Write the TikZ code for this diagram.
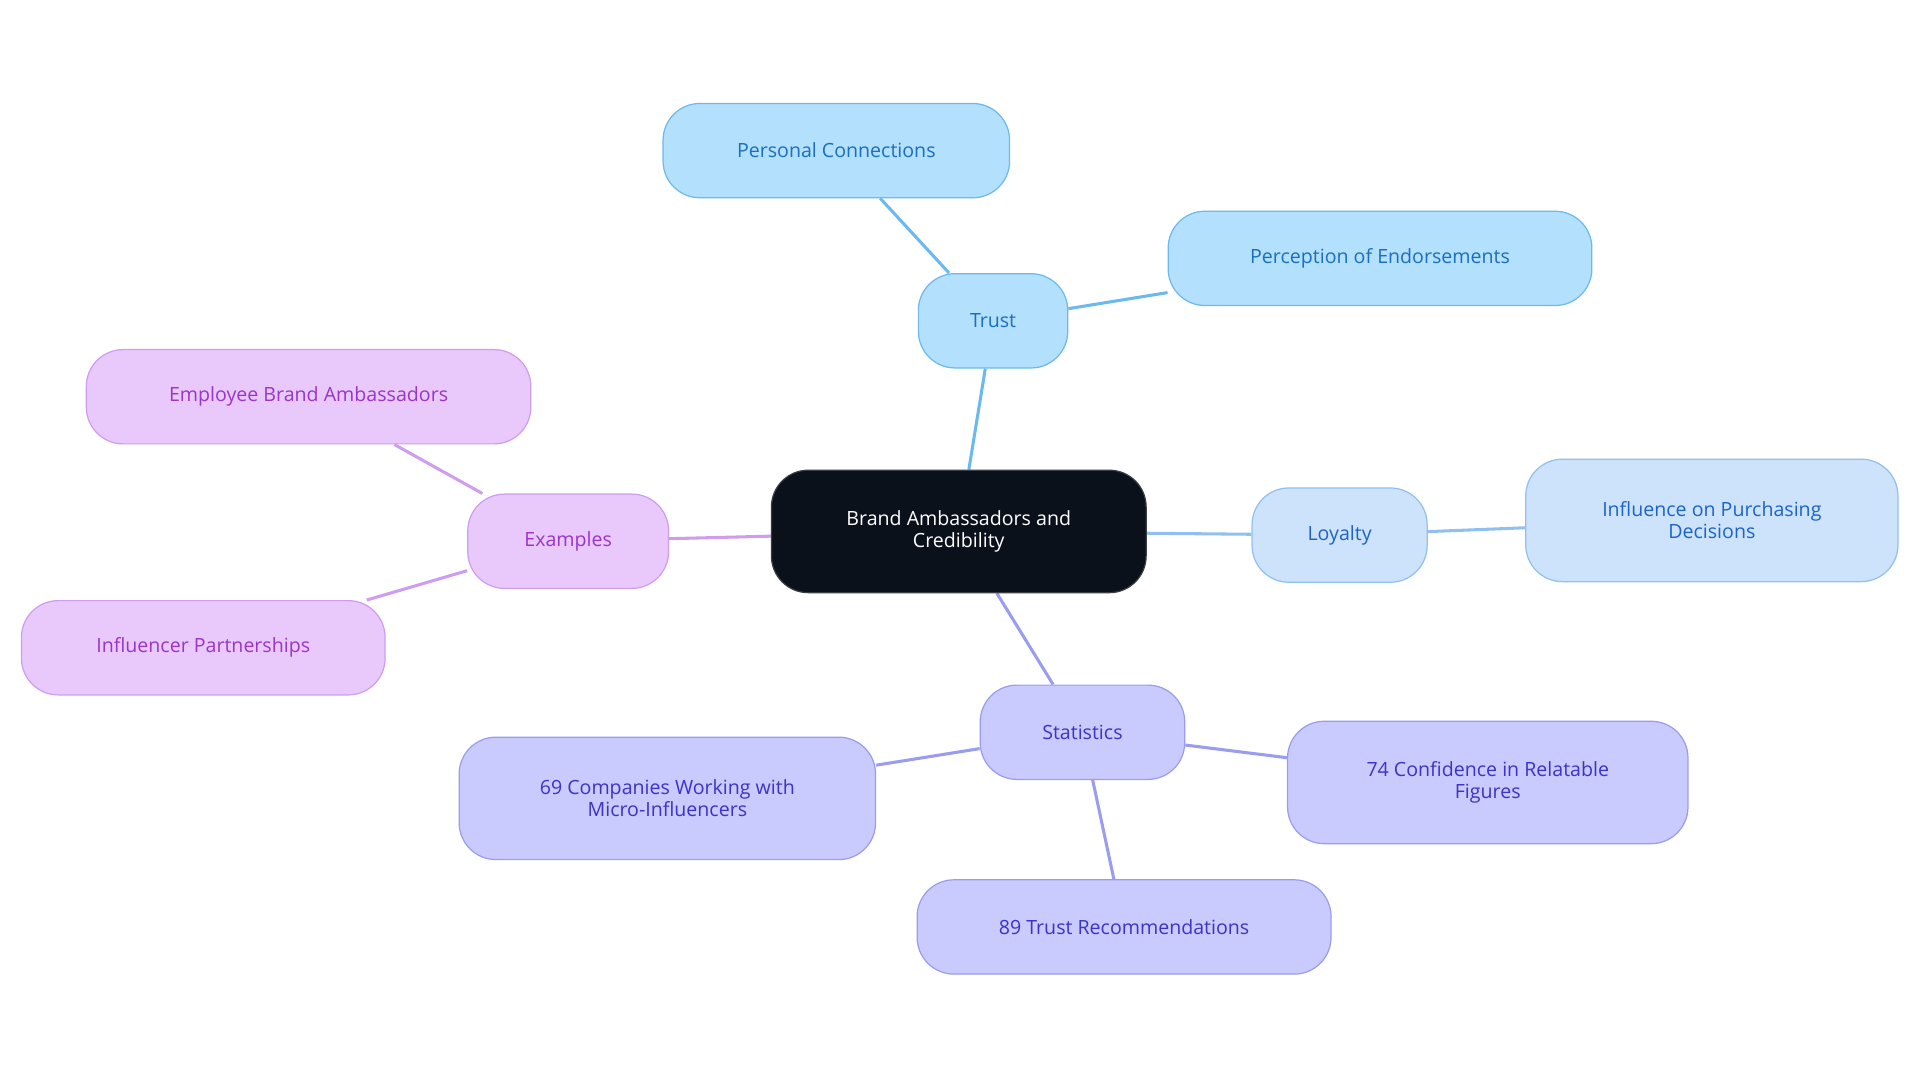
\documentclass[tikz,border=0pt]{standalone}
\usepackage{fontspec}
\setmainfont{Open Sans}
\usetikzlibrary{backgrounds}
\definecolor{cfill}{HTML}{0B111B}
\definecolor{tfill}{HTML}{B3E0FD}\definecolor{tline}{HTML}{6CB9EF}\definecolor{ttext}{HTML}{1A6FC0}
\definecolor{lfill}{HTML}{CDE3FB}\definecolor{lline}{HTML}{90C0F0}\definecolor{ltext}{HTML}{1D64C8}
\definecolor{sfill}{HTML}{C9CAFD}\definecolor{sline}{HTML}{9A9CF0}\definecolor{stext}{HTML}{3B34C7}
\definecolor{efill}{HTML}{E9C9FC}\definecolor{eline}{HTML}{CF9DF0}\definecolor{etext}{HTML}{9A35C9}
\tikzset{
  x=1pt,y=-1pt,
  box/.style={rounded corners=30pt,line width=1pt,align=center,font=\fontsize{16}{18}\selectfont,inner sep=0pt},
  tr/.style={box,fill=tfill,draw=tline,text=ttext},
  lo/.style={box,fill=lfill,draw=lline,text=ltext},
  st/.style={box,fill=sfill,draw=sline,text=stext},
  ex/.style={box,fill=efill,draw=eline,text=etext},
  ed/.style={line width=2.5pt}
}
\begin{document}
\begin{tikzpicture}
\useasboundingbox (0,0) rectangle (1568,884);
\node[box,fill=cfill,draw=cfill!60!gray,text=white,minimum width=306pt,minimum height=100pt] (c) at (783,434) {Brand Ambassadors and\\Credibility};
\node[tr,minimum width=122pt,minimum height=77pt] (t) at (811,262) {Trust};
\node[tr,minimum width=283pt,minimum height=77pt] (pc) at (683,123) {Personal Connections};
\node[tr,minimum width=346pt,minimum height=77pt] (pe) at (1127,211) {Perception of Endorsements};
\node[lo,minimum width=143pt,minimum height=77pt] (l) at (1094,437) {Loyalty};
\node[lo,minimum width=304pt,minimum height=100pt] (ip) at (1398,425) {Influence on Purchasing\\Decisions};
\node[st,minimum width=167pt,minimum height=77pt] (s) at (884,598) {Statistics};
\node[st,minimum width=340pt,minimum height=100pt] (s69) at (545,652) {69 Companies Working with\\Micro-Influencers};
\node[st,minimum width=327pt,minimum height=100pt] (s74) at (1215,639) {74 Confidence in Relatable\\Figures};
\node[st,minimum width=338pt,minimum height=77pt] (s89) at (918,757) {89 Trust Recommendations};
\node[ex,minimum width=164pt,minimum height=77pt] (e) at (464,442) {Examples};
\node[ex,minimum width=363pt,minimum height=77pt] (eb) at (252,324) {Employee Brand Ambassadors};
\node[ex,minimum width=297pt,minimum height=77pt] (ip2) at (166,529) {Influencer Partnerships};
\begin{scope}[on background layer]
\draw[ed,tline] (c)--(t) (t)--(pc) (t)--(pe);
\draw[ed,lline] (c)--(l) (l)--(ip);
\draw[ed,sline] (c)--(s) (s)--(s69) (s)--(s74) (s)--(s89);
\draw[ed,eline] (c)--(e) (e)--(eb) (e)--(ip2);
\end{scope}
\end{tikzpicture}
\end{document}
